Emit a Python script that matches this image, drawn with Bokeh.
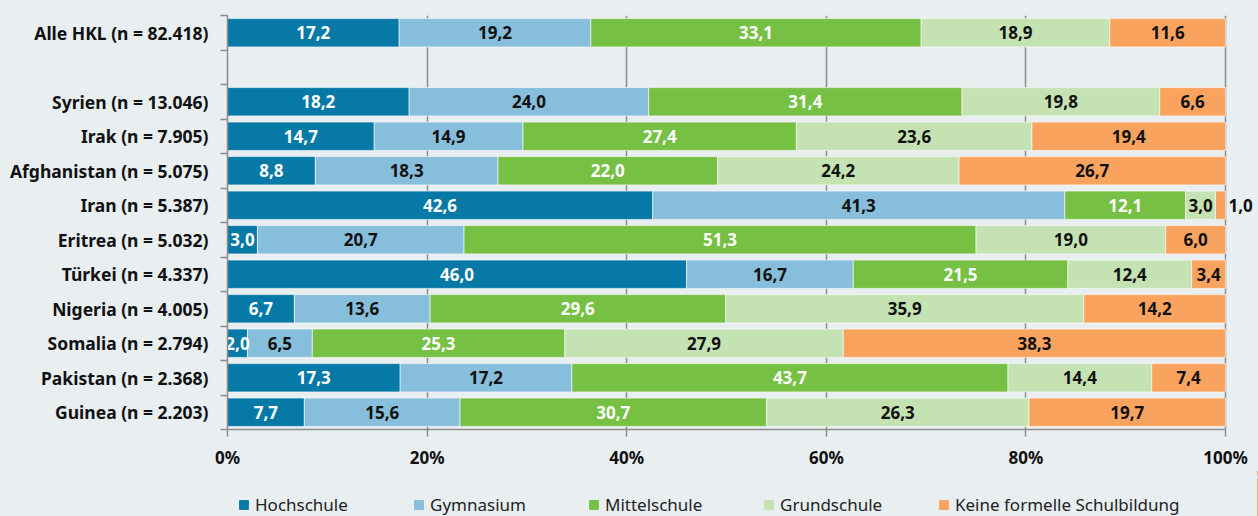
from bokeh.plotting import figure
from bokeh.layouts import column
from bokeh.models import ColumnDataSource, FixedTicker, Legend, LegendItem, Range1d
from bokeh.core.properties import value
from bokeh.embed import file_html
from bokeh.resources import INLINE

categories = ["Alle HKL (n = 82.418)", "Syrien (n = 13.046)", "Irak (n = 7.905)",
              "Afghanistan (n = 5.075)", "Iran (n = 5.387)", "Eritrea (n = 5.032)",
              "Türkei (n = 4.337)", "Nigeria (n = 4.005)", "Somalia (n = 2.794)",
              "Pakistan (n = 2.368)", "Guinea (n = 2.203)"]
series = ["Hochschule", "Gymnasium", "Mittelschule", "Grundschule", "Keine formelle Schulbildung"]
hochschule   = [17.2, 18.2, 14.7, 8.8, 42.6, 3.0, 46.0, 6.7, 2.0, 17.3, 7.7]
gymnasium    = [19.2, 24.0, 14.9, 18.3, 41.3, 20.7, 16.7, 13.6, 6.5, 17.2, 15.6]
mittelschule = [33.1, 31.4, 27.4, 22.0, 12.1, 51.3, 21.5, 29.6, 25.3, 43.7, 30.7]
grundschule  = [18.9, 19.8, 23.6, 24.2, 3.0, 19.0, 12.4, 35.9, 27.9, 14.4, 26.3]
keine        = [11.6, 6.6, 19.4, 26.7, 1.0, 6.0, 3.4, 14.2, 38.3, 7.4, 19.7]
x_ticks = [0, 20, 40, 60, 80, 100]
x_tick_labels = ["0%", "20%", "40%", "60%", "80%", "100%"]

colors = ["#0679a6", "#86bedb", "#76c043", "#c5e2b3", "#f9a35f"]
label_colors = ["white", "#111111", "white", "#111111", "#111111"]
BG = "#e9eef1"
FONT = "Noto Sans"

# y positions: first category on top, then an empty slot, then the rest
ypos = [11] + list(range(9, -1, -1))
values = [hochschule, gymnasium, mittelschule, grundschule, keine]

src = ColumnDataSource(dict(y=ypos, **{s: v for s, v in zip(series, values)}))

p = figure(width=1258, height=471, output_backend="svg", toolbar_location=None,
           x_range=(0, 103.2), y_range=(-0.5, 11.5),
           min_border_left=227, min_border_right=1, min_border_top=15, min_border_bottom=40)
p.background_fill_color = BG
p.border_fill_color = BG
p.outline_line_color = None

p.hbar_stack(series, y="y", height=0.82, color=colors, source=src,
             line_color="white", line_width=0.6)

# labels
lx, ly, lt, lc = [], [], [], []
ox, oy, ot = [], [], []
for i, y in enumerate(ypos):
    left = 0.0
    for k in range(5):
        v = values[k][i]
        txt = f"{v:.1f}".replace(".", ",")
        if k == 4 and v < 1.5:
            ox.append(left + v); oy.append(y); ot.append(txt)
        else:
            lx.append(left + v / 2); ly.append(y); lt.append(txt); lc.append(label_colors[k])
        left += v

p.text(x="x", y="y", text="t", text_color="c",
       source=ColumnDataSource(dict(x=lx, y=ly, t=lt, c=lc)),
       text_align="center", text_baseline="middle", text_font=value(FONT),
       text_font_style="bold", text_font_size="17px")
p.text(x="x", y="y", text="t", source=ColumnDataSource(dict(x=ox, y=oy, t=ot)),
       x_offset=15, text_align="center", text_baseline="middle", text_font=value(FONT),
       text_font_style="bold", text_font_size="17px", text_color="#111111")

# x axis
p.xaxis.ticker = FixedTicker(ticks=x_ticks)
p.xaxis.bounds = (0, 100)
p.xaxis.major_label_overrides = {t: l for t, l in zip(x_ticks, x_tick_labels)}
p.xaxis.major_label_text_font = FONT
p.xaxis.major_label_text_font_style = "bold"
p.xaxis.major_label_text_font_size = "17px"
p.xaxis.major_label_text_color = "#111111"
p.xaxis.axis_line_color = "#8c8c8c"
p.xaxis.axis_line_width = 1.5
p.xaxis.major_tick_line_color = "#8c8c8c"
p.xaxis.major_tick_line_width = 1.5
p.xaxis.major_tick_in = 0
p.xaxis.major_tick_out = 7
p.xaxis.minor_tick_line_color = None
p.xaxis.major_label_standoff = 9

# y axis
p.yaxis.ticker = FixedTicker(ticks=ypos, minor_ticks=[i - 0.5 for i in range(13)])
p.yaxis.major_label_overrides = {y: c for y, c in zip(ypos, categories)}
p.yaxis.major_label_text_font = FONT
p.yaxis.major_label_text_font_style = "bold"
p.yaxis.major_label_text_font_size = "17.5px"
p.yaxis.major_label_text_color = "#111111"
p.yaxis.axis_line_color = "#8c8c8c"
p.yaxis.axis_line_width = 1.5
p.yaxis.major_tick_line_color = None
p.yaxis.major_tick_in = 0
p.yaxis.major_tick_out = 0
p.yaxis.minor_tick_line_color = "#8c8c8c"
p.yaxis.minor_tick_line_width = 1.5
p.yaxis.minor_tick_in = 0
p.yaxis.minor_tick_out = 7
p.yaxis.major_label_standoff = 12

p.xgrid.ticker = FixedTicker(ticks=[20, 40, 60, 80, 100])
p.xgrid.grid_line_color = "#8c8c8c"
p.xgrid.grid_line_width = 1.5
p.ygrid.grid_line_color = None

# legend strip below the chart (same data, drawn out of view, only used as legend proxies)
p2 = figure(width=1258, height=45, output_backend="svg", toolbar_location=None,
            x_axis_location=None, y_axis_location=None,
            x_range=Range1d(-2, -1), y_range=Range1d(-0.5, 11.5),
            min_border_left=0, min_border_right=0, min_border_top=0, min_border_bottom=0)
p2.background_fill_alpha = 0
p2.border_fill_alpha = 0
p2.outline_line_color = None
p2.grid.grid_line_color = None
leg_renderers = p2.hbar_stack(series, y="y", height=0.82, color=colors, source=src)

legend = Legend(items=[LegendItem(label=s, renderers=[r]) for s, r in zip(series, leg_renderers)],
                orientation="horizontal", location=(11, 0),
                background_fill_alpha=0, border_line_color=None,
                padding=0, margin=0, spacing=8, label_width=150,
                glyph_width=11, glyph_height=11, label_standoff=6,
                label_text_font=FONT, label_text_font_size="17px",
                label_text_color="#222222")
p2.add_layout(legend, "center")

layout = column(p, p2, spacing=0, styles={"background-color": BG})
open("out.html", "w").write(file_html(layout, INLINE))
